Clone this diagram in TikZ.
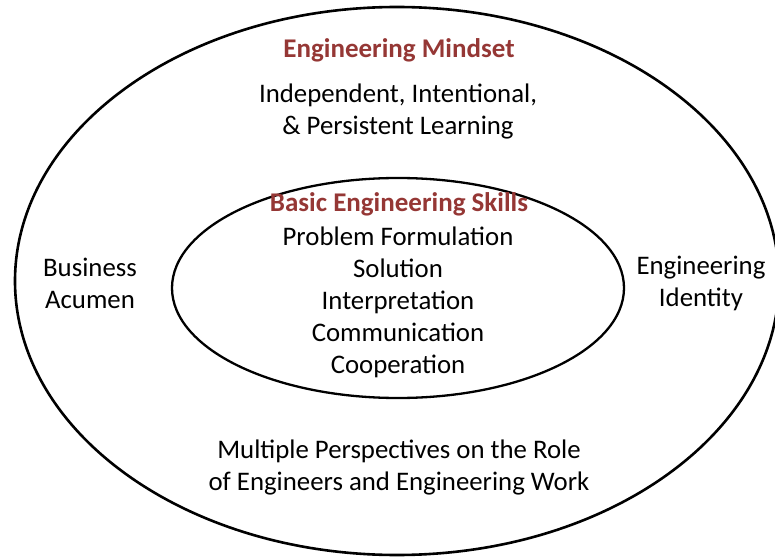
\documentclass[tikz,border=0pt]{standalone}
\usepackage{fontspec}
\setmainfont{Carlito}
\definecolor{headred}{RGB}{149,55,53}
\begin{document}
\begin{tikzpicture}[x=1bp,y=-1bp,
  lbl/.style={font=\fontsize{26.8bp}{32bp}\selectfont, align=center, inner sep=0pt},
  head/.style={lbl, font=\fontsize{27bp}{32bp}\selectfont\bfseries, text=headred},
  ring/.style={draw=black, line width=2.6bp}]
\useasboundingbox (0,0) rectangle (775,557);
% rings
\draw[ring] (397,281) ellipse [x radius=382, y radius=274];
\draw[ring, line width=2.3bp] (398,288) ellipse [x radius=226, y radius=110];
% outer ring labels
\node[head] (mindset) at (399,50) {Engineering Mindset};
\node[lbl] (learning) at (398,112) {Independent, Intentional,\\\& Persistent Learning};
\node[lbl] (business) at (90,283) {Business\\Acumen};
\node[lbl] (identity) at (701,283) {Engineering\\Identity};
\node[lbl] (roles) at (399,467) {Multiple Perspectives on the Role\\of Engineers and Engineering Work};
% inner ring labels
\node[head] (basic) at (399,204) {Basic Engineering Skills};
\node[lbl] (skills) at (398,302) {Problem Formulation\\Solution\\Interpretation\\Communication\\Cooperation};
\end{tikzpicture}
\end{document}
